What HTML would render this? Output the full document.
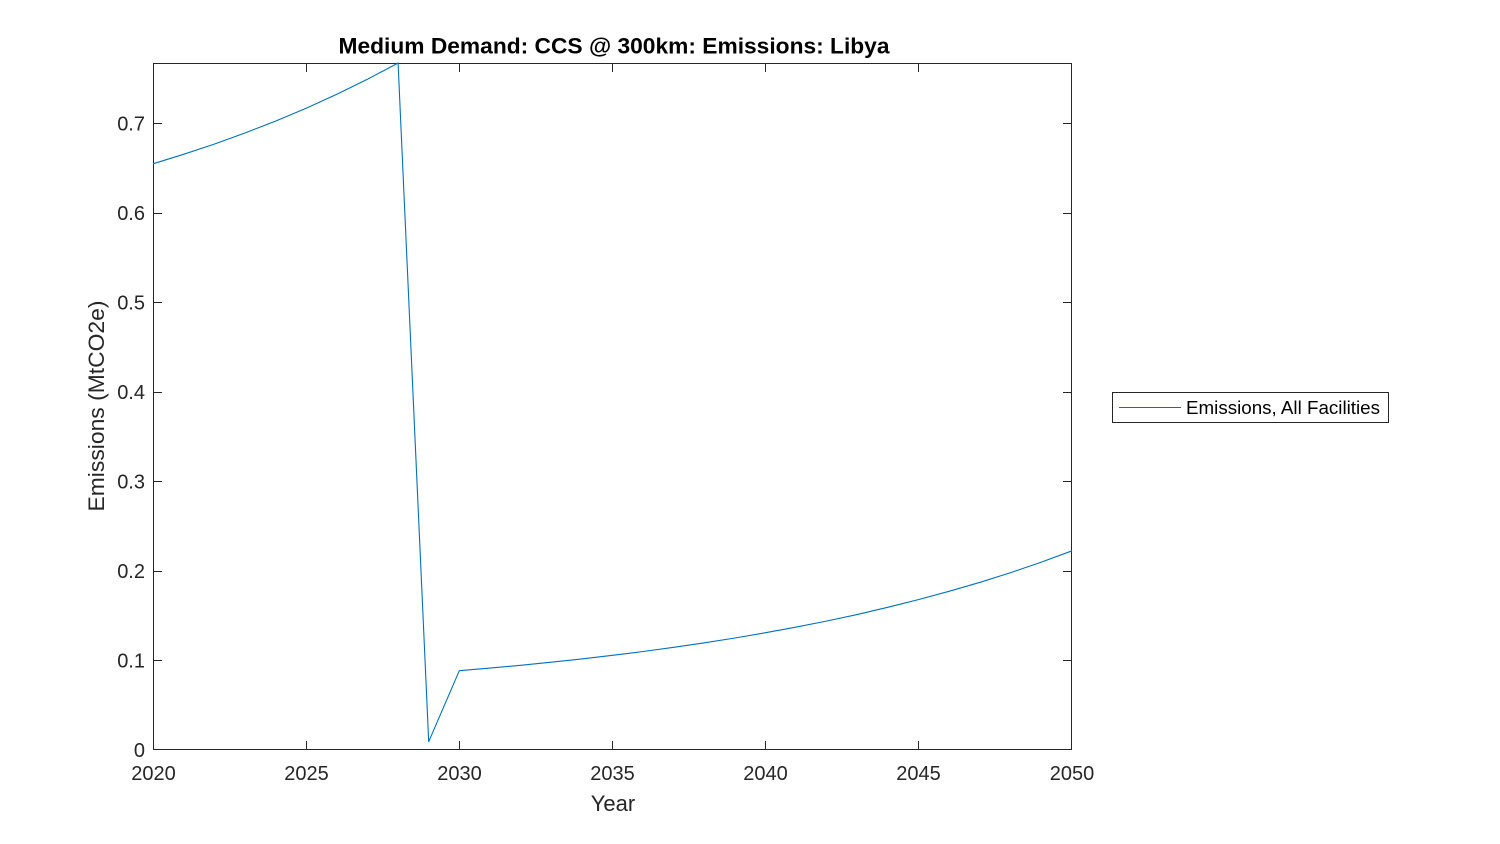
<!DOCTYPE html>
<html>
<head>
<meta charset="utf-8">
<style>
  html, body { margin: 0; padding: 0; background: #ffffff; }
  svg { display: block; }
  text { font-family: "Liberation Sans", Arial, sans-serif; }
</style>
</head>
<body>
<svg width="1500" height="844" viewBox="0 0 1500 844" xmlns="http://www.w3.org/2000/svg">
  <rect x="0" y="0" width="1500" height="844" fill="#ffffff"/>
  <!-- axes box -->
  <rect x="153.5" y="63.5" width="918" height="686" fill="#ffffff" stroke="#262626" stroke-width="1"/>

  <!-- data line -->
  <polyline fill="none" stroke="#0072BD" stroke-width="1.1" stroke-linejoin="round"
    points="153,163.8 183.63,154.3 214.27,144.1 244.9,133.0 275.53,121.1 306.17,108.2 336.8,94.3 367.43,79.3 398.07,63.0 428.7,741.7 459.33,670.7 489.97,668.1 520.6,665.3 551.23,662.2 581.87,658.9 612.5,655.3 643.13,651.5 673.77,647.3 704.4,642.8 735.03,638.0 765.67,632.7 796.3,627.1 826.93,621.0 857.57,614.4 888.2,607.2 918.83,599.5 949.47,591.2 980.1,582.3 1010.73,572.6 1041.37,562.1 1072,550.8"/>

  <!-- ticks -->
  <g stroke="#262626" stroke-width="1">
    <line x1="306.5" y1="750" x2="306.5" y2="741"/>
    <line x1="459.5" y1="750" x2="459.5" y2="741"/>
    <line x1="612.5" y1="750" x2="612.5" y2="741"/>
    <line x1="765.5" y1="750" x2="765.5" y2="741"/>
    <line x1="918.5" y1="750" x2="918.5" y2="741"/>
    <line x1="306.5" y1="63" x2="306.5" y2="72"/>
    <line x1="459.5" y1="63" x2="459.5" y2="72"/>
    <line x1="612.5" y1="63" x2="612.5" y2="72"/>
    <line x1="765.5" y1="63" x2="765.5" y2="72"/>
    <line x1="918.5" y1="63" x2="918.5" y2="72"/>
    <line x1="153" y1="660.5" x2="162" y2="660.5"/>
    <line x1="153" y1="571.5" x2="162" y2="571.5"/>
    <line x1="153" y1="481.5" x2="162" y2="481.5"/>
    <line x1="153" y1="392.5" x2="162" y2="392.5"/>
    <line x1="153" y1="302.5" x2="162" y2="302.5"/>
    <line x1="153" y1="213.5" x2="162" y2="213.5"/>
    <line x1="153" y1="123.5" x2="162" y2="123.5"/>
    <line x1="1072" y1="660.5" x2="1063" y2="660.5"/>
    <line x1="1072" y1="571.5" x2="1063" y2="571.5"/>
    <line x1="1072" y1="481.5" x2="1063" y2="481.5"/>
    <line x1="1072" y1="392.5" x2="1063" y2="392.5"/>
    <line x1="1072" y1="302.5" x2="1063" y2="302.5"/>
    <line x1="1072" y1="213.5" x2="1063" y2="213.5"/>
    <line x1="1072" y1="123.5" x2="1063" y2="123.5"/>
  </g>

  <!-- y tick labels -->
  <g fill="#262626" font-size="20" text-anchor="end">
    <text x="145" y="757">0</text>
    <text x="145" y="667.5">0.1</text>
    <text x="145" y="578">0.2</text>
    <text x="145" y="488.5">0.3</text>
    <text x="145" y="399">0.4</text>
    <text x="145" y="309.5">0.5</text>
    <text x="145" y="220">0.6</text>
    <text x="145" y="130.5">0.7</text>
  </g>

  <!-- x tick labels -->
  <g fill="#262626" font-size="20" text-anchor="middle">
    <text x="153.5" y="780">2020</text>
    <text x="306.5" y="780">2025</text>
    <text x="459.5" y="780">2030</text>
    <text x="612.5" y="780">2035</text>
    <text x="765.5" y="780">2040</text>
    <text x="918.5" y="780">2045</text>
    <text x="1072" y="780">2050</text>
  </g>

  <!-- axis labels -->
  <text x="613" y="811" fill="#262626" font-size="22" text-anchor="middle">Year</text>
  <text transform="translate(104,406) rotate(-90)" fill="#262626" font-size="22.5" text-anchor="middle" textLength="211" lengthAdjust="spacingAndGlyphs">Emissions (MtCO2e)</text>

  <!-- title -->
  <text x="614" y="53.5" fill="#000000" font-size="22" font-weight="bold" text-anchor="middle" textLength="551" lengthAdjust="spacingAndGlyphs">Medium Demand: CCS @ 300km: Emissions: Libya</text>

  <!-- legend -->
  <rect x="1112.5" y="392.5" width="276" height="30" fill="#ffffff" stroke="#262626" stroke-width="1"/>
  <line x1="1119" y1="407.5" x2="1181" y2="407.5" stroke="#0072BD" stroke-width="1"/>
  <text x="1186" y="414" fill="#000000" font-size="18.3" textLength="194" lengthAdjust="spacingAndGlyphs">Emissions, All Facilities</text>
</svg>
</body>
</html>
